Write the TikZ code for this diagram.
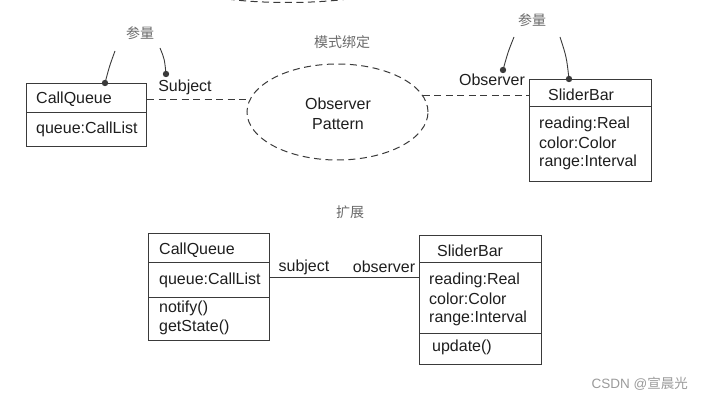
\documentclass[tikz,border=0pt]{standalone}
\usepackage{fontspec}
\setmainfont{Liberation Sans}
\newfontfamily\cjk{Noto Sans CJK SC}
\usetikzlibrary{shapes.geometric,calc}
\definecolor{linec}{HTML}{3A3A3A}
\definecolor{textc}{HTML}{1E1E1E}
\definecolor{labc}{HTML}{6A6A6A}
\definecolor{wmc}{HTML}{9A9A9A}
\begin{document}
\begin{tikzpicture}[x=1pt,y=-1pt,
  box/.style={draw=linec, line width=1pt, rectangle, inner sep=0pt, anchor=north west},
  txt/.style={inner sep=0pt, anchor=west, font=\fontsize{16}{18}\selectfont, text=textc},
  ctxt/.style={inner sep=0pt, font=\fontsize{16}{18}\selectfont, text=textc},
  cjklab/.style={inner sep=0pt, font=\cjk\fontsize{14}{16}\selectfont, text=labc},
  divider/.style={draw=linec, line width=0.8pt},
  dashline/.style={draw=linec, line width=1pt, dash pattern=on 7pt off 4.5pt},
  lead/.style={draw=linec, line width=0.9pt},
  dot/.style={fill=linec}
]
\useasboundingbox (0,0) rectangle (702,401);

% partial ellipse cut off at the top
\begin{scope}
\clip (0,0) rectangle (702,401);
\draw[dashline] (205,-5) .. controls (245,5) and (330,5) .. (370,-5);
\end{scope}

% ---------- top part ----------
\node[box, minimum width=120pt, minimum height=63pt] (cq1) at (26,83) {};
\draw[divider] (cq1.west |- 0,112) -- (cq1.east |- 0,112);
\node[txt] (cq1t) at (36,99) {CallQueue};
\node[txt] (cq1a) at (36,129) {queue:CallList};

\node[box, minimum width=122pt, minimum height=102pt] (sb1) at (529,79) {};
\draw[divider] (sb1.west |- 0,106) -- (sb1.east |- 0,106);
\node[txt] (sb1t) at (548,95) {SliderBar};
\node[txt] (sb1a) at (539,124) {reading:Real};
\node[txt] (sb1b) at (539,143) {color:Color};
\node[txt] (sb1c) at (539,162) {range:Interval};

\node[ellipse, draw=linec, line width=1pt, dash pattern=on 7pt off 4.5pt,
      minimum width=181pt, minimum height=96pt, inner sep=0pt] (ell) at (337.5,112) {};
\node[ctxt] (ellt1) at (338,104) {Observer};
\node[ctxt] (ellt2) at (338,124) {Pattern};
\node[cjklab] (bind) at (342,42) {模式绑定};

\draw[dashline] (cq1.east |- ell.172) -- (ell.172);
\draw[dashline] (ell.11) -- (sb1.west |- ell.11);

\node[ctxt] (subj) at (185,87) {Subject};
\node[ctxt] (obs) at (492,80) {Observer};

\node[cjklab] (par1) at (140,33) {参量};
\node[cjklab] (par2) at (532,20) {参量};

\coordinate (d1) at (105,83);
\coordinate (d2) at (166,74);
\coordinate (d3) at (503,70);
\coordinate (d4) at (569,79);
\coordinate (s1) at (115,51);
\coordinate (s2) at (160,48);
\coordinate (s3) at (514,37);
\coordinate (s4) at (560,37);
\draw[lead] (s1) .. controls (109.5,66) .. (d1);
\draw[lead] (s2) .. controls (164.5,59) .. (d2);
\draw[lead] (s3) .. controls (508,52) .. (d3);
\draw[lead] (s4) .. controls (566.5,57) .. (d4);
\fill[dot] (d1) circle (3.2pt);
\fill[dot] (d2) circle (3.2pt);
\fill[dot] (d3) circle (3.2pt);
\fill[dot] (d4) circle (3.2pt);

% ---------- bottom part ----------
\node[cjklab] (ext) at (350,212) {扩展};

\node[box, minimum width=121pt, minimum height=107pt] (cq2) at (148,233) {};
\draw[divider] (cq2.west |- 0,262) -- (cq2.east |- 0,262);
\draw[divider] (cq2.west |- 0,297) -- (cq2.east |- 0,297);
\node[txt] (cq2t) at (159,250) {CallQueue};
\node[txt] (cq2a) at (159,280) {queue:CallList};
\node[txt] (cq2m1) at (159,308) {notify()};
\node[txt] (cq2m2) at (159,327) {getState()};

\node[box, minimum width=122pt, minimum height=129pt] (sb2) at (419,235) {};
\draw[divider] (sb2.west |- 0,262) -- (sb2.east |- 0,262);
\draw[divider] (sb2.west |- 0,333) -- (sb2.east |- 0,333);
\node[txt] (sb2t) at (437,251) {SliderBar};
\node[txt] (sb2a) at (429,280) {reading:Real};
\node[txt] (sb2b) at (429,299) {color:Color};
\node[txt] (sb2c) at (429,318) {range:Interval};
\node[txt] (sb2m) at (432,347) {update()};

\coordinate (ly) at (0,277);
\draw[draw=linec, line width=1pt] (cq2.east |- ly) -- (sb2.west |- ly);
\node[ctxt] (sublab) at (304,267) {subject};
\node[ctxt] (obslab) at (384,267) {observer};

% watermark
\node[inner sep=0pt, anchor=east, text=wmc, font=\fontsize{13.5}{15}\selectfont] (wm) at (688,384) {CSDN @{\cjk 宣晨光}};
\end{tikzpicture}
\end{document}
